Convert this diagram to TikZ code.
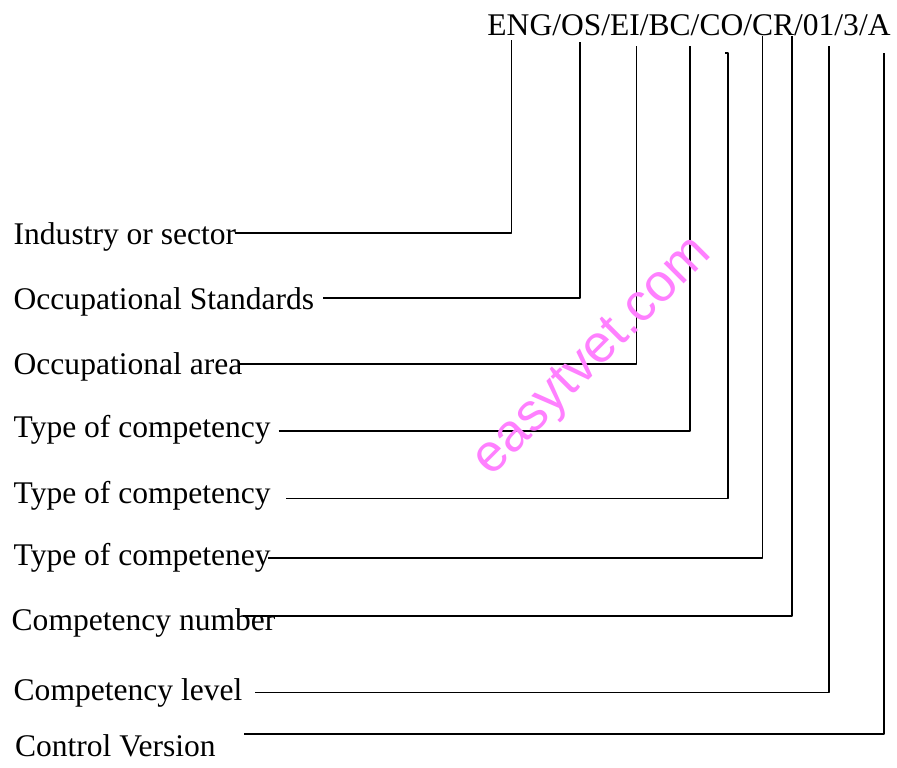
\documentclass[tikz,border=0pt]{standalone}
\usepackage{fontspec}
\setmainfont{Liberation Serif}
\newfontfamily\marksans{Liberation Sans}
\tikzset{
  partlabel/.style={anchor=base west,inner sep=0pt,font=\fontsize{11.85bp}{14bp}\selectfont},
  marktext/.style={anchor=base west,inner sep=0pt,rotate=45,font=\marksans\fontsize{20bp}{24bp}\selectfont},
}
\begin{document}
\begin{tikzpicture}[line join=bevel,]
  \pgfsetlinewidth{0.65bp}
%%
\begin{scope}
  \definecolor{strokecol}{rgb}{1.0,1.0,1.0};
  \pgfsetstrokecolor{strokecol}
  \definecolor{fillcol}{rgb}{1.0,1.0,1.0};
  \pgfsetfillcolor{fillcol}
  \filldraw (0.0bp,0.0bp) -- (0.0bp,287.625bp) -- (336.375bp,287.625bp) -- (336.375bp,0.0bp) -- cycle;
\end{scope}
  \pgfsetcolor{black}
  % Node: code
  \node[partlabel] (code) at (182.5bp,274.5bp) {ENG/OS/EI/BC/CO/CR/01/3/A};
  % Node: industry
  \node[partlabel] (industry) at (4.5bp,196.1bp) {Industry or sector};
  % Node: standards
  \node[partlabel] (standards) at (4.5bp,171.75bp) {Occupational Standards};
  % Node: area
  \node[partlabel] (area) at (4.5bp,147.4bp) {Occupational area};
  % Node: type_one
  \node[partlabel] (type_one) at (4.5bp,123.75bp) {Type of competency};
  % Node: type_two
  \node[partlabel] (type_two) at (4.5bp,98.6bp) {Type of competency};
  % Node: type_three
  \node[partlabel] (type_three) at (4.5bp,75.4bp) {Type of competeney};
  % Node: number
  \node[partlabel] (number) at (3.75bp,51.0bp) {Competency number};
  % Node: level
  \node[partlabel] (level) at (4.5bp,24.8bp) {Competency level};
  % Node: version
  \node[partlabel] (version) at (5.0bp,3.75bp) {Control Version};
%
  % free ends under the code
  \coordinate (eng_top) at (191.9bp,273.0bp);
  \coordinate (os_top) at (217.5bp,272.25bp);
  \coordinate (ei_top) at (238.8bp,270.75bp);
  \coordinate (bc_top) at (259.0bp,270.75bp);
  \coordinate (co_top) at (273.1bp,268.1bp);
  \coordinate (cr_top) at (286.2bp,274.5bp);
  \coordinate (nr_top) at (297.3bp,274.5bp);
  \coordinate (lv_top) at (311.25bp,270.75bp);
  \coordinate (ver_top) at (331.9bp,268.1bp);
  % free ends beside the labels
  \coordinate (industry_end) at (88.1bp,200.4bp);
  \coordinate (standards_end) at (121.2bp,175.9bp);
  \coordinate (area_end) at (90.0bp,151.05bp);
  \coordinate (type_one_end) at (104.4bp,125.9bp);
  \coordinate (type_two_end) at (107.25bp,100.6bp);
  \coordinate (type_three_end) at (100.5bp,78.3bp);
  \coordinate (number_end) at (91.1bp,56.6bp);
  \coordinate (level_end) at (95.6bp,27.8bp);
  \coordinate (version_end) at (91.5bp,12.3bp);
%
  % Edge: industry -> ENG
  \draw (industry_end) -| (eng_top);
  % Edge: standards -> OS
  \draw (standards_end) -| (os_top);
  % Edge: area -> EI
  \draw (area_end) -| (ei_top);
  % Edge: type_one -> BC
  \draw (type_one_end) -| (bc_top);
  % Edge: type_two -> CO
  \draw (type_two_end) -| (co_top) -- ++(-1.1bp,0bp);
  % Edge: type_three -> CR
  \draw (type_three_end) -| (cr_top);
  % Edge: number -> 01
  \draw (number_end) -| (nr_top);
  % Edge: level -> 3
  \draw (level_end) -| (lv_top);
  % Edge: version -> A
  \draw (version_end) -| (ver_top);
%
  % Node: watermark
  \definecolor{markcol}{rgb}{1.0,0.5,1.0};
  \node[marktext,text=markcol] (watermark) at (184.0bp,108.4bp) {easytvet.com};
%
\end{tikzpicture}
\end{document}
